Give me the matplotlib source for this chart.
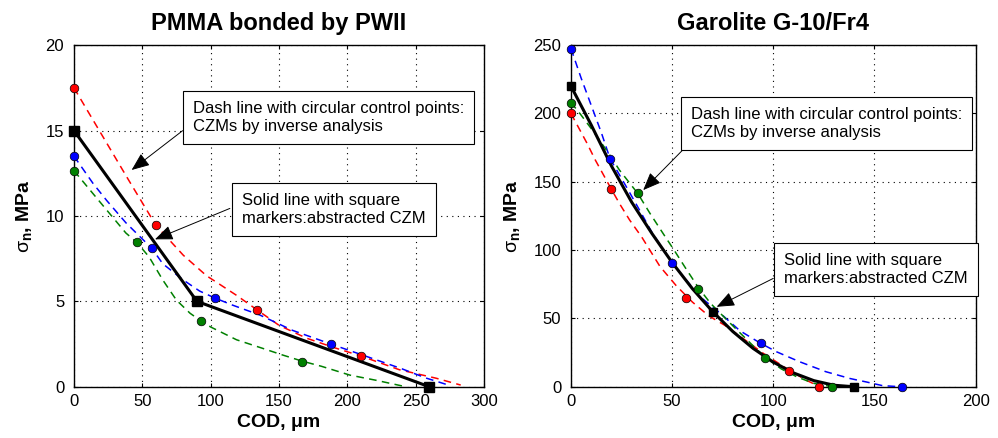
import matplotlib
matplotlib.use('Agg')
import matplotlib.pyplot as plt

plt.rcParams['font.family'] = ['Liberation Sans', 'DejaVu Sans']
plt.rcParams['mathtext.fontset'] = 'custom'
plt.rcParams['mathtext.rm'] = 'Liberation Sans'
plt.rcParams['mathtext.it'] = 'Liberation Sans'
plt.rcParams['mathtext.bf'] = 'Liberation Sans:bold'

# ---------------- PMMA bonded by PWII ----------------
pm_red_cx = [0, 60, 134, 210]
pm_red_cy = [17.5, 9.45, 4.5, 1.8]
pm_blue_cx = [0, 57.3, 103, 188]
pm_blue_cy = [13.5, 8.1, 5.2, 2.5]
pm_green_cx = [0, 46, 93, 167]
pm_green_cy = [12.65, 8.45, 3.85, 1.46]

pm_red_x = [0, 20, 40, 60, 80, 97, 119, 134, 150, 170, 190, 210, 238, 265, 283]
pm_red_y = [17.5, 14.8, 12.1, 9.45, 7.7, 6.5, 5.35, 4.5, 3.6, 2.85, 2.3, 1.8, 1.0, 0.5, 0.1]
pm_blue_x = [0, 14, 24, 38, 57, 65, 80, 92, 103, 116, 136, 160, 188, 215, 240, 258, 274]
pm_blue_y = [13.5, 11.9, 10.9, 9.6, 8.1, 7.2, 6.25, 5.6, 5.2, 4.78, 4.2, 3.3, 2.5, 1.75, 1.05, 0.5, 0.1]
pm_green_x = [0, 14, 26, 38, 46, 55, 65, 75, 85, 93, 100, 119, 138, 153, 167, 181, 202, 221, 240]
pm_green_y = [12.65, 11.3, 10.15, 9.0, 8.45, 7.6, 6.25, 5.07, 4.3, 3.85, 3.5, 2.75, 2.25, 1.85,
              1.5, 1.2, 0.68, 0.38, 0.05]
pm_czm_x = [0, 90, 260]
pm_czm_y = [15, 5, 0]

# ---------------- Garolite G-10/Fr4 ----------------
ga_red_cx = [0, 19.8, 57, 108, 122.7]
ga_red_cy = [200, 144.6, 65, 11.5, 0]
ga_blue_cx = [0, 19.3, 50, 93.9, 163.4]
ga_blue_cy = [247.5, 166.6, 90.7, 31.7, 0]
ga_green_cx = [0, 33, 62.9, 96, 128.8]
ga_green_cy = [207.8, 141.5, 71.3, 21.2, 0]

ga_red_x = [0, 4, 8, 12, 19.8, 24, 29, 35, 44, 52, 60, 68, 76, 83.5, 95, 108, 116, 123]
ga_red_y = [200, 189, 178, 166, 145, 134, 122, 109.5, 88, 74, 62, 52, 45, 37, 24.5, 12, 5, 0]
ga_blue_x = [0, 5, 10, 15, 19.3, 27.5, 34, 40, 50, 57, 63.7, 73.6, 83.5, 93.5, 101.6, 113, 126,
             138, 146, 154, 163]
ga_blue_y = [247.5, 226, 206, 186, 167, 146, 129, 113, 90.5, 78, 66, 54, 41, 32, 25.6, 18.3, 11,
             6, 3.5, 0.8, 0]
ga_green_x = [0, 4.4, 11, 17.6, 24, 33, 39, 45.6, 51.4, 57, 63, 69, 77, 83.5, 90, 96, 104, 112,
              120, 129]
ga_green_y = [208, 200, 187, 173, 158.5, 141.5, 127, 112, 99, 86, 72.5, 61, 49, 39.5, 30, 21.5,
              13, 7, 2.5, 0]
ga_czm_x = [0, 10, 20, 30, 40, 50, 60, 70, 80, 90, 100, 110, 120, 130, 140]
ga_czm_y = [220, 191.6, 161.6, 135.1, 112.2, 90.9, 71.8, 55, 40.4, 28.1, 18, 10.1, 4.5, 1.1, 0]
ga_sq_x = [0, 70, 140]
ga_sq_y = [220, 55, 0]

txt1 = "Dash line with circular control points:\nCZMs by inverse analysis"
txt2 = "Solid line with square\nmarkers:abstracted CZM"

fig = plt.figure(figsize=(9.98, 4.38), dpi=100)
ax1 = fig.add_axes([0.0741, 0.117, 0.4108, 0.780])
ax2 = fig.add_axes([0.5721, 0.117, 0.4055, 0.780])

RED, BLUE, GREEN = '#ff0000', '#0000ff', '#008000'
DASH = (5, 3.5)


def style(ax, xlim, ylim, xticks, yticks, title):
    ax.set_xlim(*xlim)
    ax.set_ylim(*ylim)
    ax.set_xticks(xticks)
    ax.set_yticks(yticks)
    ax.grid(True, linestyle=(0, (1, 4)), color='k', lw=0.8)
    ax.set_axisbelow(True)
    ax.tick_params(direction='in', length=3, width=0.8, top=True, right=True, labelsize=12)
    ax.tick_params(axis='x', pad=5)
    ax.tick_params(axis='y', pad=7)
    for s in ax.spines.values():
        s.set_linewidth(1.0)
    ax.set_title(title, fontsize=17, fontweight='bold', pad=11)
    ax.set_xlabel('COD, \u03bcm', fontsize=14, fontweight='bold', labelpad=4)
    ax.set_ylabel(r'$\sigma_{\mathbf{n}}$, MPa', fontsize=14, fontweight='bold', labelpad=8)


def curves(ax, data, czm, sq):
    for (cx, cy, col) in data:
        ax.plot(cx, cy, color=col, lw=1.1, dashes=DASH, zorder=3)
    ax.plot(czm[0], czm[1], color='k', lw=2.2, zorder=4, solid_joinstyle='miter')
    ax.plot(sq[0], sq[1], 's', color='k', ms=sq[2], zorder=6, clip_on=False)


# PMMA
curves(ax1, [(pm_red_x, pm_red_y, RED), (pm_blue_x, pm_blue_y, BLUE),
             (pm_green_x, pm_green_y, GREEN)],
       (pm_czm_x, pm_czm_y), (pm_czm_x, pm_czm_y, 7))
for cx, cy, col in [(pm_red_cx, pm_red_cy, RED), (pm_blue_cx, pm_blue_cy, BLUE),
                    (pm_green_cx, pm_green_cy, GREEN)]:
    ax1.plot(cx, cy, 'o', mfc=col, mec='k', mew=0.5, ms=6.2, zorder=5, clip_on=False)
style(ax1, (0, 300), (0, 20), [0, 50, 100, 150, 200, 250, 300], [0, 5, 10, 15, 20],
      'PMMA bonded by PWII')

# Garolite
curves(ax2, [(ga_red_x, ga_red_y, RED), (ga_blue_x, ga_blue_y, BLUE),
             (ga_green_x, ga_green_y, GREEN)],
       (ga_czm_x, ga_czm_y), (ga_sq_x, ga_sq_y, 6))
for cx, cy, col in [(ga_red_cx, ga_red_cy, RED), (ga_blue_cx, ga_blue_cy, BLUE),
                    (ga_green_cx, ga_green_cy, GREEN)]:
    ax2.plot(cx, cy, 'o', mfc=col, mec='k', mew=0.5, ms=6.2, zorder=5, clip_on=False)
style(ax2, (0, 200), (0, 250), [0, 50, 100, 150, 200], [0, 50, 100, 150, 200, 250],
      'Garolite G-10/Fr4')

box = dict(boxstyle='square,pad=0.6', fc='white', ec='black', lw=0.8)
arrow = dict(arrowstyle='-|>,head_length=1.1,head_width=0.45', color='k', lw=0.7,
             mutation_scale=10, shrinkA=0, shrinkB=0)


def note(ax, text, tx, ty, start, tip):
    ax.text(tx, ty, text, transform=ax.transAxes, fontsize=12, va='center', ha='left',
            bbox=box, zorder=10, linespacing=1.25)
    ax.annotate('', xy=tip, xytext=start, arrowprops=arrow, zorder=9)


note(ax1, txt1, 0.290, 0.788, (79.5, 14.99), (42.2, 12.69))
note(ax1, txt2, 0.4105, 0.5186, (114.1, 10.44), (59.3, 8.63))
note(ax2, txt1, 0.2965, 0.7694, (55.2, 173.2), (35.7, 143.9))
note(ax2, txt2, 0.5263, 0.343, (100, 79.3), (72, 58.5))

fig.savefig('out.png', dpi=100)
